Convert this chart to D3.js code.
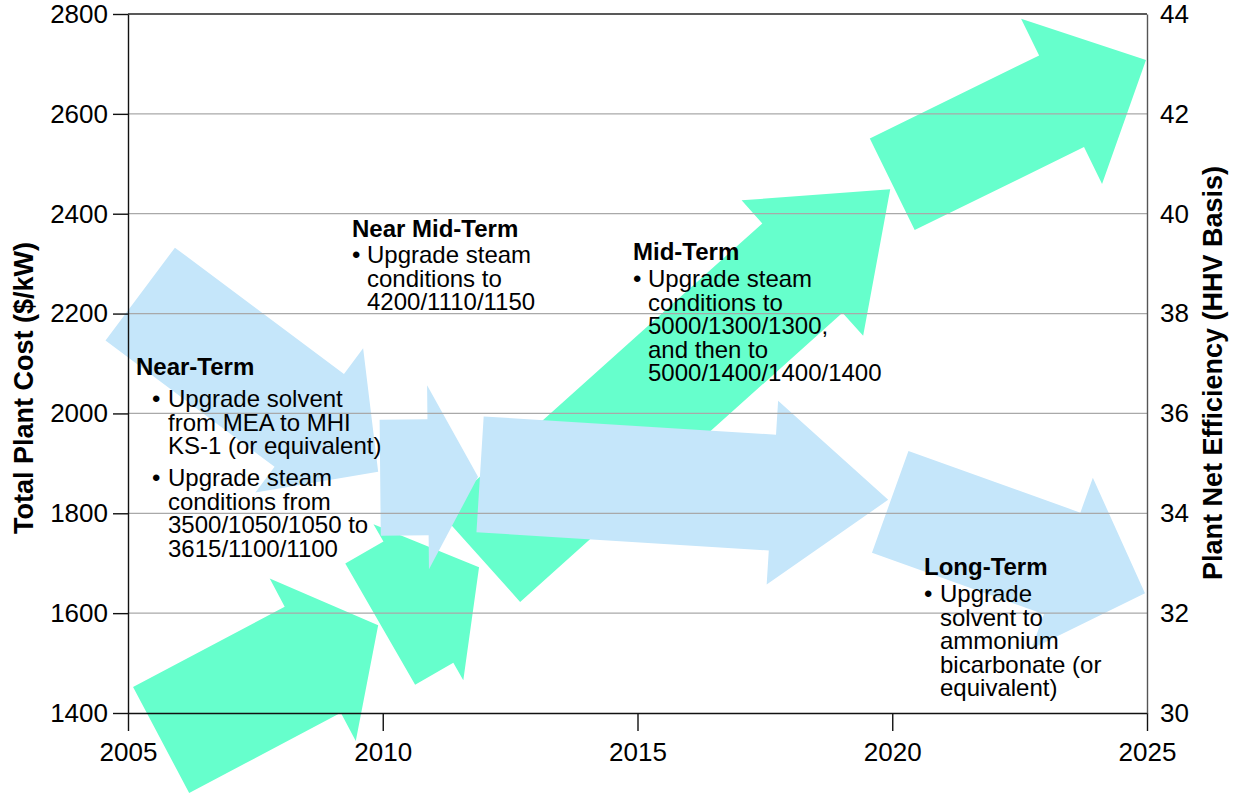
<!DOCTYPE html>
<html>
<head>
<meta charset="utf-8">
<script src="https://cdn.jsdelivr.net/npm/d3@7"></script>
<style>
body { margin: 0; background: #fff; }
svg { display: block; font-family: "Liberation Sans", Arial, sans-serif; }
</style>
</head>
<body>
<div id="grafico"></div>
<script>
// Datos
const xTicks = [2005, 2010, 2015, 2020, 2025];
const costTicks = [1400, 1600, 1800, 2000, 2200, 2400, 2600, 2800];
const effTicks = [30, 32, 34, 36, 38, 40, 42, 44];

// Costo total (flechas azules): desde -> hasta
const costFromYear = [2005.24, 2009.95, 2011.91, 2019.96];
const costFrom     = [2239, 1871, 1878, 1823];
const costToYear   = [2009.91, 2011.87, 2019.92, 2024.96];
const costTo       = [1883, 1873, 1827, 1640];

// Eficiencia neta (flechas verdes): desde -> hasta
const effFromYear = [2005.65, 2009.95, 2011.91, 2020.0];
const effFrom     = [29.46, 31.78, 33.12, 40.59];
const effToYear   = [2009.91, 2011.89, 2019.96, 2024.98];
const effTo       = [31.76, 32.92, 40.49, 43.08];

const noteTitles = ["Near-Term", "Near Mid-Term", "Mid-Term", "Long-Term"];
const noteBullets = [
  [["Upgrade solvent", "from MEA to MHI", "KS-1 (or equivalent)"],
   ["Upgrade steam", "conditions from", "3500/1050/1050 to", "3615/1100/1100"]],
  [["Upgrade steam", "conditions to", "4200/1110/1150"]],
  [["Upgrade steam", "conditions to", "5000/1300/1300,", "and then to", "5000/1400/1400/1400"]],
  [["Upgrade", "solvent to", "ammonium", "bicarbonate (or", "equivalent)"]]
];

// Estilo de las flechas (px): semiancho del cuerpo, semiancho de la punta, largo de la punta
const blueShape  = [{s: 58, h: 90, l: 86}, {s: 58, h: 92, l: 50}, {s: 58, h: 92, l: 116}, {s: 54, h: 91, l: 88}];
const greenShape = [{s: 60, h: 92, l: 74}, {s: 70, h: 90, l: 70}, {s: 60, h: 91, l: 118}, {s: 51, h: 92, l: 94}];

// Posicion de las notas
const noteLayout = [
  {hx: 136, bx: 152, tx: 168, y: 375, first: 32, gap: 32},
  {hx: 352, bx: 352, tx: 367, y: 237, first: 26, gap: 32},
  {hx: 633, bx: 633, tx: 648, y: 260, first: 27, gap: 32},
  {hx: 924, bx: 924, tx: 940, y: 575, first: 27, gap: 32}
];

const width = 1236;
const height = 795;
const marginTop = 14;
const marginLeft = 128;
const marginRight = 89;
const marginBottom = 82;

const blue = "#c5e6fa";
const green = "#66ffcc";

const xScale = d3.scaleLinear()
    .domain([2005, 2025])
    .range([marginLeft, width - marginRight]);

const yCost = d3.scaleLinear()
    .domain([1400, 2800])
    .range([height - marginBottom, marginTop]);

const yEff = d3.scaleLinear()
    .domain([30, 44])
    .range([height - marginBottom, marginTop]);

const svg = d3.select("#grafico")
  .append("svg")
  .attr("width", width)
  .attr("height", height);

// flecha gruesa desde la cola hasta la punta
const flecha = (x0, y0, x1, y1, f) => {
  const dx = x1 - x0, dy = y1 - y0;
  const len = Math.hypot(dx, dy);
  const ux = dx / len, uy = dy / len;
  const nx = -uy, ny = ux;
  const bx = x1 - ux * f.l, by = y1 - uy * f.l;
  const pts = [
    [x0 + nx * f.s, y0 + ny * f.s],
    [bx + nx * f.s, by + ny * f.s],
    [bx + nx * f.h, by + ny * f.h],
    [x1, y1],
    [bx - nx * f.h, by - ny * f.h],
    [bx - nx * f.s, by - ny * f.s],
    [x0 - nx * f.s, y0 - ny * f.s]
  ];
  return d3.line()(pts) + "Z";
};

// Flechas verdes (eficiencia, eje derecho)
svg.append("g")
  .selectAll("path")
  .data(effFrom)
  .enter()
  .append("path")
  .attr("d", (d, i) => flecha(xScale(effFromYear[i]), yEff(d), xScale(effToYear[i]), yEff(effTo[i]), greenShape[i]))
  .attr("fill", green);

// Flechas azules (costo, eje izquierdo)
svg.append("g")
  .selectAll("path")
  .data(costFrom)
  .enter()
  .append("path")
  .attr("d", (d, i) => flecha(xScale(costFromYear[i]), yCost(d), xScale(costToYear[i]), yCost(costTo[i]), blueShape[i]))
  .attr("fill", blue);

// Lineas de la grilla
svg.append("g")
  .selectAll("line")
  .data(costTicks.slice(1, -1))
  .enter()
  .append("line")
  .attr("x1", marginLeft)
  .attr("x2", width - marginRight)
  .attr("y1", d => yCost(d))
  .attr("y2", d => yCost(d))
  .attr("stroke", "#a9a9a9")
  .attr("stroke-width", 1.2);

// borde superior
svg.append("line")
  .attr("x1", marginLeft)
  .attr("x2", width - marginRight)
  .attr("y1", yCost(2800))
  .attr("y2", yCost(2800))
  .attr("stroke", "#222")
  .attr("stroke-width", 1.5);

// Ejes
const estiloEje = g => {
  g.attr("font-size", 26).attr("font-family", "'Liberation Sans', Arial, sans-serif");
  g.selectAll("text").attr("fill", "#000");
};

svg.append("g")
  .attr("transform", `translate(${marginLeft},0)`)
  .call(d3.axisLeft(yCost).tickValues(costTicks).tickFormat(d3.format("d")).tickSize(15).tickSizeOuter(0).tickPadding(5))
  .call(estiloEje)
  .call(g => g.selectAll("line, path").attr("stroke", "#111").attr("stroke-width", 1.4));

svg.append("g")
  .attr("transform", `translate(0,${height - marginBottom})`)
  .call(d3.axisBottom(xScale).tickValues(xTicks).tickFormat(d3.format("d")).tickSize(18).tickSizeOuter(0).tickPadding(12))
  .call(estiloEje)
  .call(g => g.selectAll("line, path").attr("stroke", "#111").attr("stroke-width", 1.4));

svg.append("g")
  .attr("transform", `translate(${width - marginRight},0)`)
  .call(d3.axisRight(yEff).tickValues(effTicks).tickFormat(d3.format("d")).tickSize(0).tickSizeOuter(0).tickPadding(13))
  .call(estiloEje)
  .call(g => g.select("path").attr("stroke", "#555").attr("stroke-width", 1.4));

// Titulos de ejes
svg.append("text")
  .attr("transform", `translate(33,388) rotate(-90)`)
  .attr("text-anchor", "middle")
  .attr("font-size", 27)
  .attr("font-weight", "bold")
  .text("Total Plant Cost ($/kW)");

svg.append("text")
  .attr("transform", `translate(1222,373) rotate(-90)`)
  .attr("text-anchor", "middle")
  .attr("font-size", 27)
  .attr("font-weight", "bold")
  .text("Plant Net Efficiency (HHV Basis)");

// Notas: titulo y vinetas (cada vineta es un solo texto con varias lineas)
const lineGap = 23.5;
noteTitles.forEach((titulo, k) => {
  const lay = noteLayout[k];
  const g = svg.append("g").attr("font-size", 24).attr("fill", "#000");
  g.append("text")
    .attr("x", lay.hx)
    .attr("y", lay.y)
    .attr("font-weight", "bold")
    .text(titulo);
  let y = lay.y + lay.first;
  noteBullets[k].forEach((lineas) => {
    const t = g.append("text").attr("x", lay.bx).attr("y", y);
    t.append("tspan").attr("x", lay.bx).attr("y", y).text("\u2022");
    lineas.forEach((linea, j) => {
      t.append("tspan")
        .attr("x", lay.tx)
        .attr("y", y + j * lineGap)
        .text(linea);
    });
    y += (lineas.length - 1) * lineGap + lay.gap;
  });
});
</script>
</body>
</html>
